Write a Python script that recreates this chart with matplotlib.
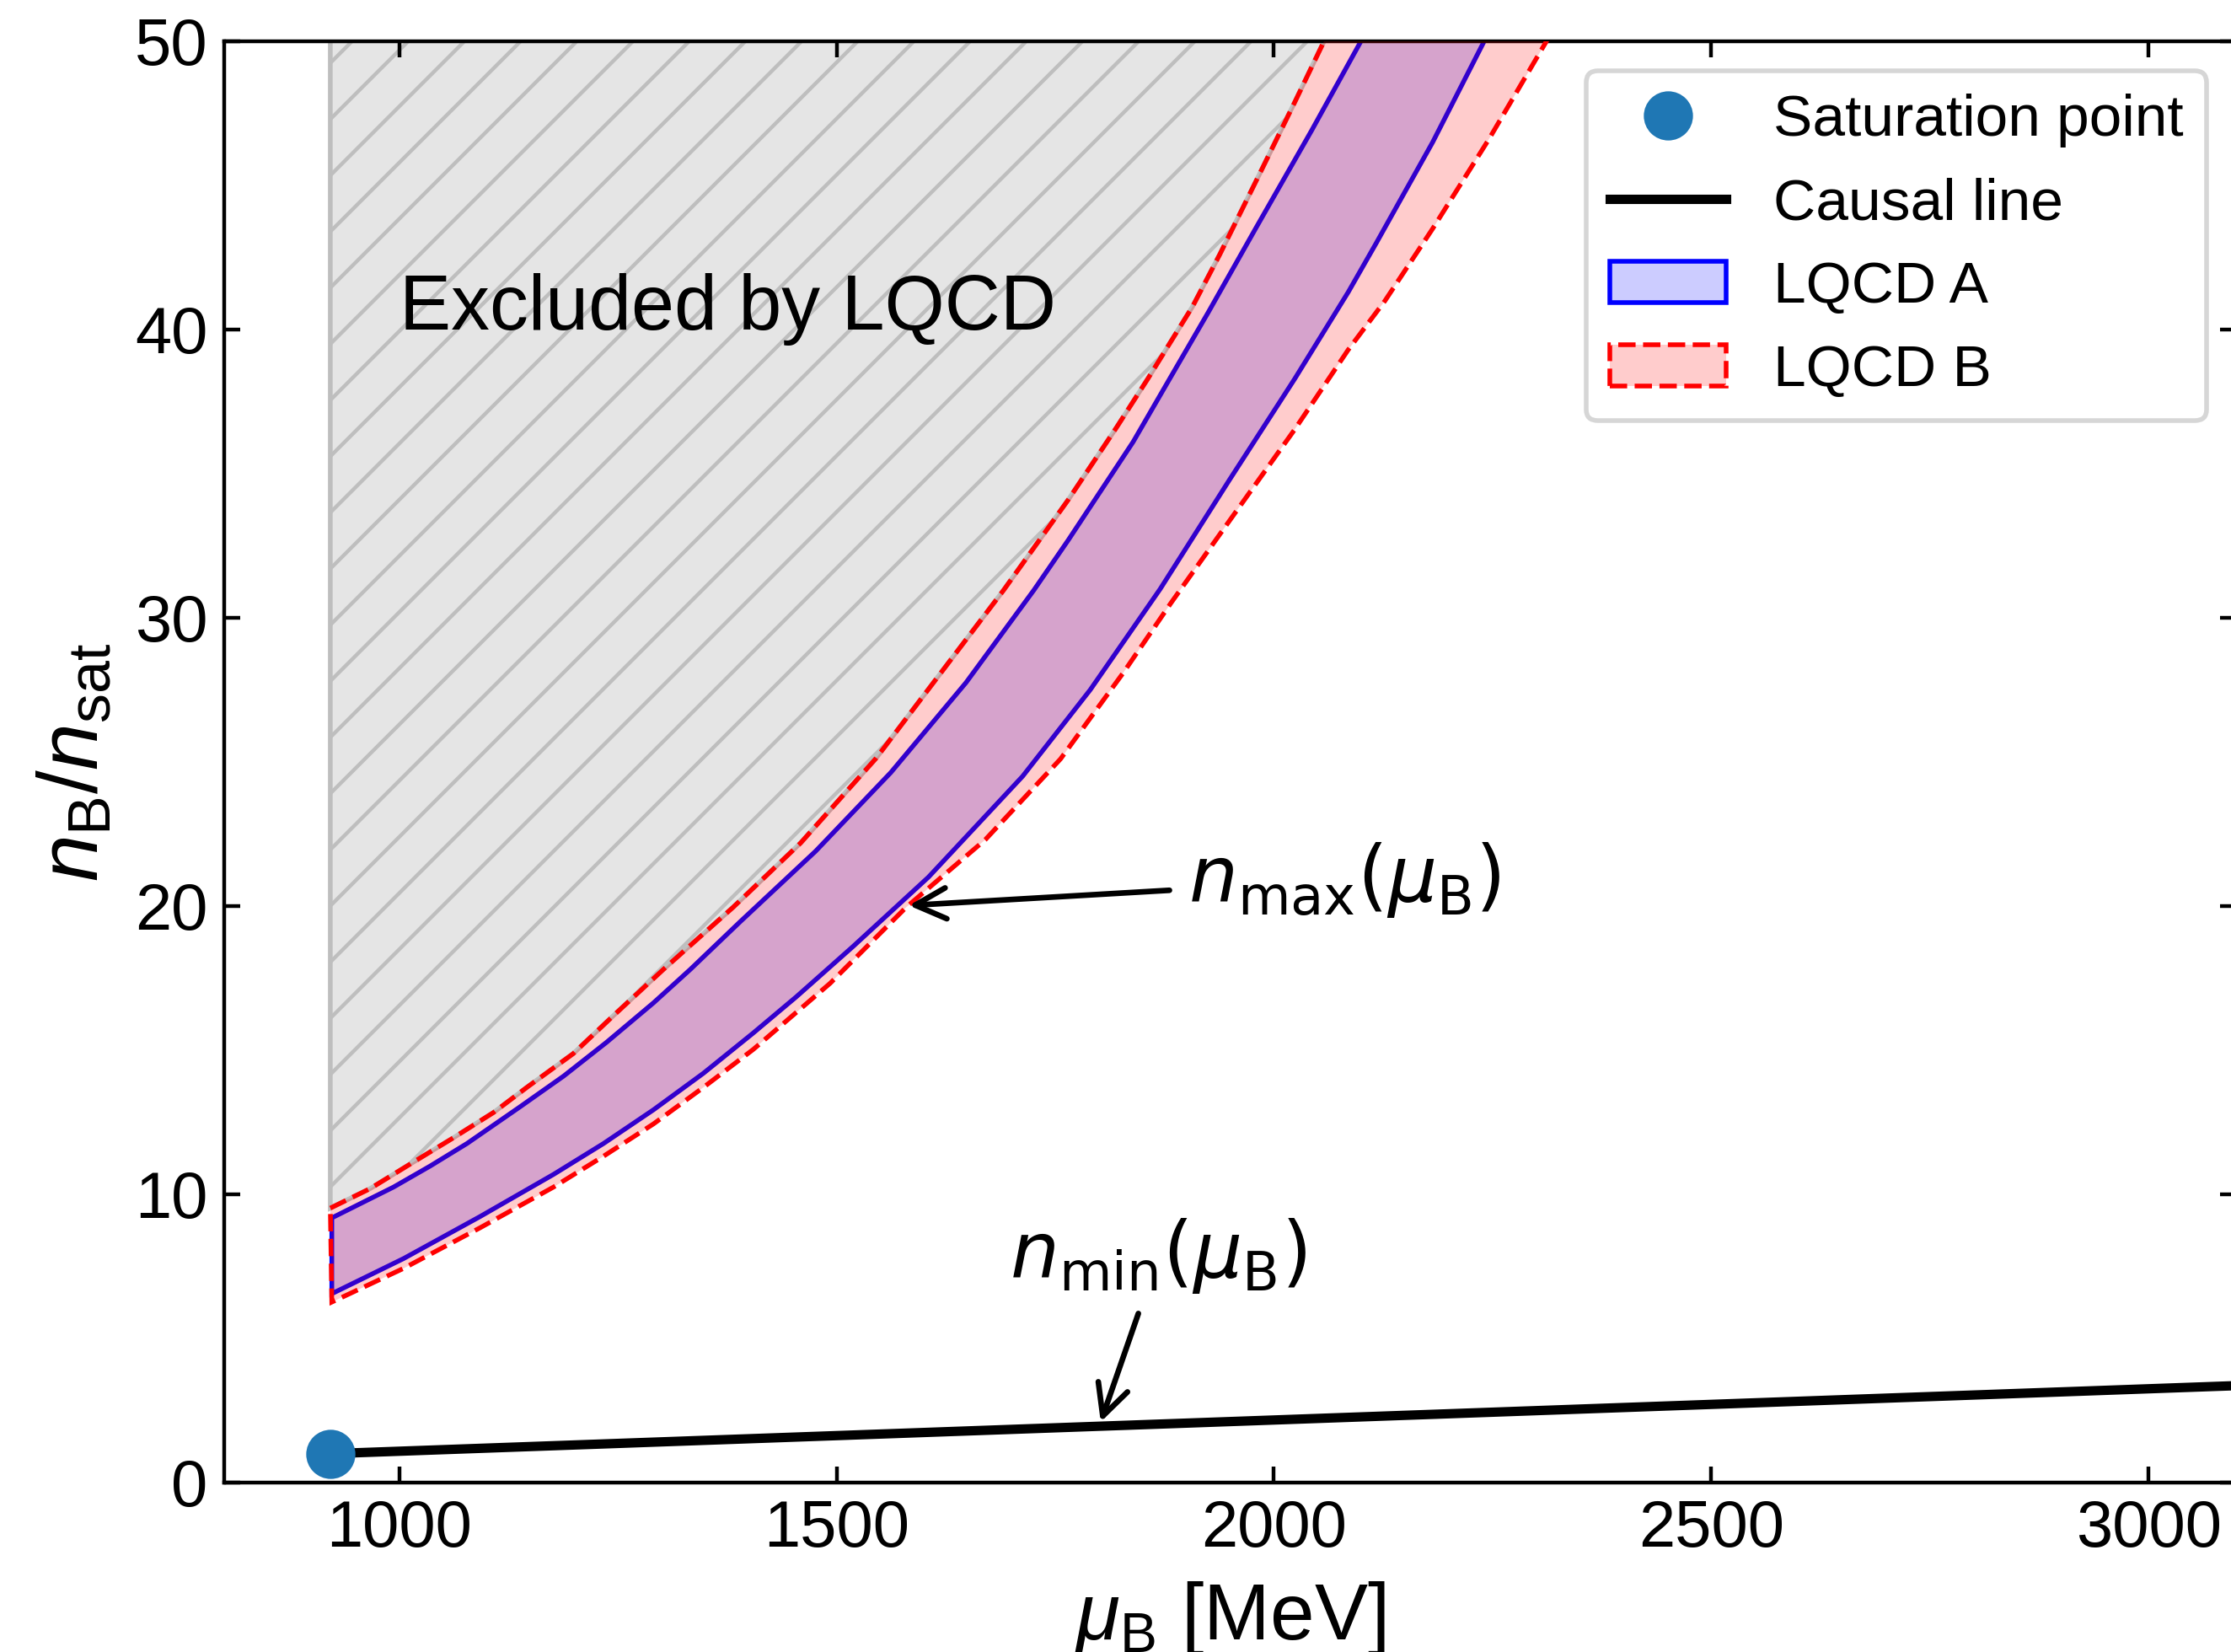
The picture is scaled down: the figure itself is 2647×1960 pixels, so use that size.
import matplotlib
matplotlib.use('Agg')
import matplotlib.pyplot as plt

plt.rcParams['font.family'] = ['Liberation Sans', 'DejaVu Sans']
plt.rcParams['mathtext.fontset'] = 'custom'
plt.rcParams['mathtext.rm'] = 'Liberation Sans'
plt.rcParams['mathtext.it'] = 'Liberation Sans:italic'
plt.rcParams['mathtext.bf'] = 'Liberation Sans:bold'
plt.rcParams['hatch.color'] = '#bebebe'
plt.rcParams['hatch.linewidth'] = 0.8

# saturation point and causal line
sat_mu = [921.5]
sat_n = [1.0]
causal_mu = [921.5, 3100]
causal_n = [1.0, 3.36]

# LQCD A band (upper / lower edge)
a_up_mu = [923, 993.6, 1035.5, 1077.5, 1138, 1188, 1237, 1290.7, 1332.8, 1390, 1476,
           1562, 1648, 1725.6, 1765, 1839, 1881, 1925, 1979, 2043, 2098, 2140]
a_up_n = [9.18, 10.25, 10.98, 11.76, 13.03, 14.1, 15.27, 16.64, 17.8, 19.46, 21.9,
          24.63, 27.75, 30.96, 32.7, 36.1, 38.3, 40.6, 43.5, 46.9, 49.92, 52.3]
a_low_mu = [923, 1005.1, 1092.7, 1176.5, 1233.6, 1290.7, 1347.9, 1405, 1454, 1519, 1605,
            1712.7, 1790, 1870, 1949.5, 2024, 2085, 2117, 2181.5, 2239, 2280]
a_low_n = [6.55, 7.77, 9.23, 10.69, 11.76, 12.93, 14.2, 15.6, 16.85, 18.6, 21.0,
           24.5, 27.5, 31.0, 34.8, 38.3, 41.3, 43.0, 46.5, 49.92, 52.5]

# LQCD B band (upper / lower edge)
b_up_mu = [921.3, 967, 1008.9, 1062, 1108, 1146, 1199, 1245, 1302, 1381.5, 1459, 1545,
           1618, 1691, 1765, 1820, 1856, 1907, 1938, 1982, 2024, 2056, 2090]
b_up_n = [9.52, 10.2, 10.98, 11.96, 12.84, 13.71, 14.88, 16.2, 17.8, 19.95, 22.19, 25.12,
          28.04, 30.96, 34.1, 36.6, 38.3, 40.8, 42.6, 45.3, 47.9, 49.92, 52.0]
b_low_mu = [923, 1005.1, 1092.7, 1176.5, 1233.6, 1290.7, 1347.9, 1405, 1492.7, 1579.4,
            1670, 1756, 1828, 1882, 1950, 2023, 2085, 2127, 2181.5, 2245.7, 2310, 2350]
b_low_n = [6.26, 7.43, 8.84, 10.25, 11.32, 12.44, 13.71, 15.03, 17.32, 19.95,
           22.3, 25.1, 28.1, 30.5, 33.4, 36.5, 39.3, 41.0, 43.5, 46.6, 49.92, 52.0]

fig = plt.figure(figsize=(2647 / 400, 1960 / 400), dpi=400)
ax = fig.add_axes([0.1005, 0.1026, 0.9018, 0.8724])

# excluded region above LQCD B upper edge
ex_x = [b_up_mu[0]] + b_up_mu + [b_up_mu[-1]]
ex_y = [60] + b_up_n + [60]
ax.fill(ex_x, ex_y, facecolor='#e5e5e5', edgecolor='#bebebe', hatch='//', lw=1, zorder=1)

band_a = ax.fill(a_up_mu + a_low_mu[::-1], a_up_n + a_low_n[::-1],
                 facecolor=(0, 0, 1, 0.2), edgecolor='blue', lw=1, label='LQCD A', zorder=2)[0]
band_b = ax.fill(b_up_mu + b_low_mu[::-1], b_up_n + b_low_n[::-1],
                 facecolor=(1, 0, 0, 0.2), edgecolor='red', ls='--', lw=1, label='LQCD B', zorder=3)[0]

causal, = ax.plot(causal_mu, causal_n, 'k-', lw=2, label='Causal line', zorder=4)
sat, = ax.plot(sat_mu, sat_n, 'o', color='#1f77b4', ms=9.5, label='Saturation point', zorder=5)

ax.text(1000, 40, 'Excluded by LQCD', fontsize=16.5)

ax.annotate(r'$n_\mathrm{max}(\mu_\mathrm{B})$', xy=(1572, 20), xytext=(1902, 20.9),
            fontsize=16.5, ha='left', va='center', math_fontfamily='dejavusans',
            arrowprops=dict(arrowstyle='->', lw=1.2, color='k'))
ax.annotate(r'$n_\mathrm{min}(\mu_\mathrm{B})$', xy=(1802, 2.1), xytext=(1868, 7.87),
            fontsize=16.5, ha='center', va='center', math_fontfamily='dejavusans',
            arrowprops=dict(arrowstyle='->', lw=1.2, color='k', shrinkB=0))

ax.set_xlim(800, 3100)
ax.set_ylim(0, 50)
ax.set_xticks([1000, 1500, 2000, 2500, 3000])
ax.set_yticks([0, 10, 20, 30, 40, 50])
ax.tick_params(direction='in', top=True, right=True, labelsize=14)
ax.set_xlabel(r'$\mu_\mathrm{B}$ [MeV]', fontsize=17)
ax.set_ylabel(r'$n_\mathrm{B}/n_\mathrm{sat}$', fontsize=18)

ax.legend(handles=[sat, causal, band_a, band_b], loc='upper right', fontsize=12.5)

fig.savefig('out.png', dpi=400)
